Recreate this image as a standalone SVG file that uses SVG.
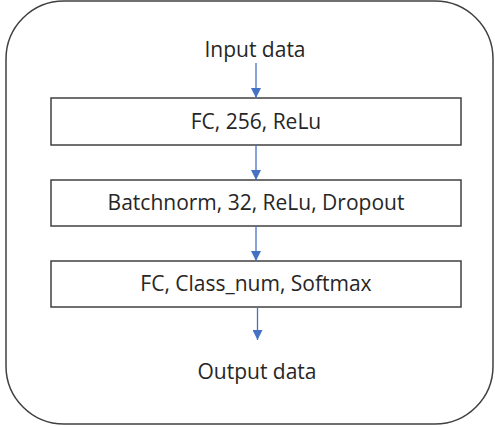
<svg xmlns="http://www.w3.org/2000/svg" width="495" height="427" viewBox="0 0 495 427">
  <defs>
    <marker id="arrowhead" viewBox="0 0 10 10" refX="10" refY="5" markerWidth="10" markerHeight="10" markerUnits="userSpaceOnUse" orient="auto">
      <path d="M0,0 L10,5 L0,10 z" fill="#4472C4"/>
    </marker>
    <style>
      .frame { fill: #ffffff; stroke: #404040; stroke-width: 1.5; }
      .layer { fill: #ffffff; stroke: #404040; stroke-width: 1.5; }
      .label { font-family: "Open Sans", "Liberation Sans", sans-serif; font-size: 21px; fill: #262626; text-anchor: middle; }
      .flow { stroke: #4472C4; stroke-width: 1.3; fill: none; marker-end: url(#arrowhead); }
    </style>
  </defs>

  <rect class="frame" x="6" y="1" width="487" height="423" rx="58" ry="58"/>

  <g id="input">
    <text class="label" x="255" y="57">Input data</text>
  </g>

  <g id="fc256">
    <rect class="layer" x="51" y="98" width="410" height="47"/>
    <text class="label" x="256" y="129">FC, 256, ReLu</text>
  </g>

  <g id="batchnorm">
    <rect class="layer" x="51" y="180" width="410" height="46"/>
    <text class="label" x="256" y="210">Batchnorm, 32, ReLu, Dropout</text>
  </g>

  <g id="softmax">
    <rect class="layer" x="51" y="261" width="410" height="46"/>
    <text class="label" x="256" y="291">FC, Class_num, Softmax</text>
  </g>

  <g id="output">
    <text class="label" x="257" y="379">Output data</text>
  </g>

  <g id="connectors">
    <line class="flow" x1="256" y1="63" x2="256" y2="98"/>
    <line class="flow" x1="256" y1="145" x2="256" y2="180"/>
    <line class="flow" x1="256" y1="226" x2="256" y2="261"/>
    <line class="flow" x1="257.5" y1="307" x2="257.5" y2="340"/>
  </g>
</svg>
